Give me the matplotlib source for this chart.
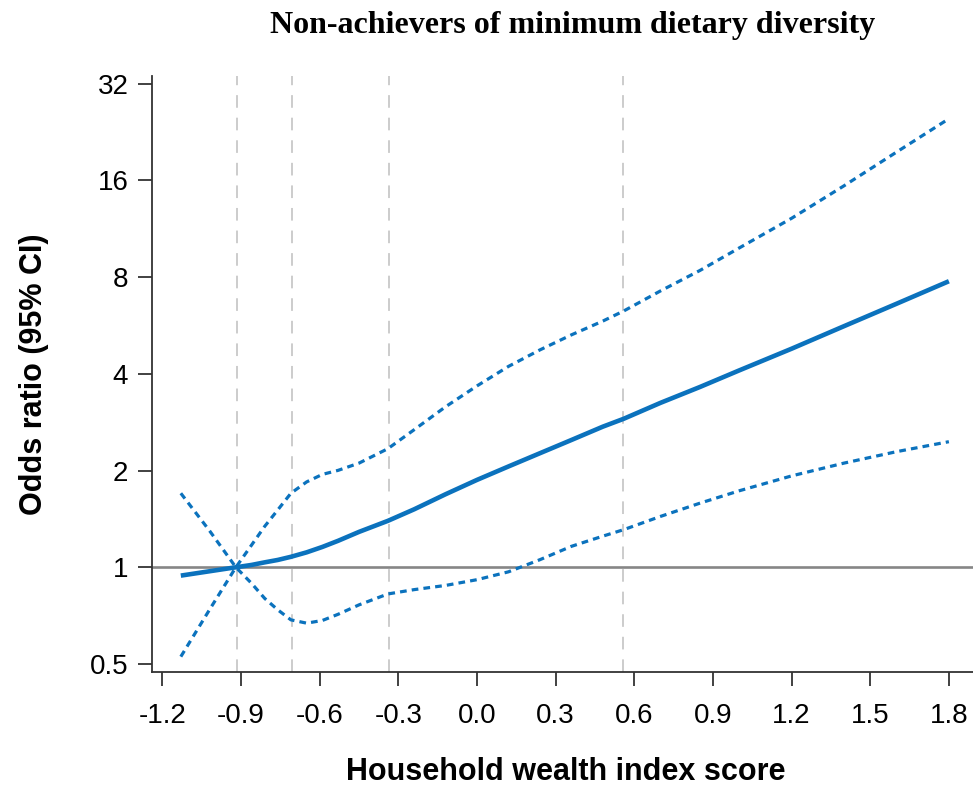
import numpy as np
import matplotlib
matplotlib.use("Agg")
import matplotlib.pyplot as plt

# wealth index score (x) and odds ratio curves
wealth = [-1.13, -1.02, -0.92, -0.86, -0.81, -0.76, -0.71, -0.65, -0.59, -0.53,
          -0.45, -0.34, -0.24, -0.12, 0.0, 0.12, 0.24, 0.36, 0.48, 0.56,
          0.70, 0.85, 1.0, 1.2, 1.4, 1.6, 1.80]
odds = [0.942, 0.972, 1.0, 1.017, 1.036, 1.054, 1.078, 1.113, 1.157, 1.209,
        1.289, 1.395, 1.515, 1.688, 1.871, 2.06, 2.265, 2.49, 2.74, 2.90,
        3.25, 3.64, 4.10, 4.79, 5.63, 6.61, 7.77]
# dotted bound starting top-left (lower limit right of the reference point)
ci_a = [1.70, 1.298, 1.0, 0.891, 0.800, 0.737, 0.686, 0.670, 0.683, 0.714,
        0.764, 0.826, 0.852, 0.878, 0.915, 0.968, 1.056, 1.162, 1.250, 1.310,
        1.44, 1.583, 1.73, 1.925, 2.11, 2.29, 2.46]
# dotted bound starting bottom-left (upper limit right of the reference point)
ci_b = [0.527, 0.739, 1.0, 1.173, 1.341, 1.509, 1.70, 1.844, 1.946, 2.003,
        2.11, 2.34, 2.68, 3.16, 3.67, 4.22, 4.75, 5.29, 5.84, 6.28,
        7.25, 8.39, 9.86, 12.2, 15.4, 19.6, 24.9]

knots = [-0.916, -0.706, -0.336, 0.556]
x_ticks = [-1.2, -0.9, -0.6, -0.3, 0.0, 0.3, 0.6, 0.9, 1.2, 1.5, 1.8]
y_ticks = [0.5, 1, 2, 4, 8, 16, 32]
y_ticklabels = ['0.5', '1', '2', '4', '8', '16', '32']

blue = '#0b72bd'

fig = plt.figure(figsize=(9.73, 7.86), dpi=100)
ax = fig.add_axes([0.1562, 0.145, 0.8438, 0.7587])

for k in knots:
    ax.axvline(k, color='#c8c8c8', lw=1.3, dashes=(7, 5.5), zorder=1)
ax.axhline(1, color='#868686', lw=1.9, zorder=2)

ax.plot(wealth, ci_a, color=blue, lw=2.3, dashes=(2.1, 1.6), zorder=3)
ax.plot(wealth, ci_b, color=blue, lw=2.3, dashes=(2.1, 1.6), zorder=3)
ax.plot(wealth, odds, color=blue, lw=3.3, solid_capstyle='butt',
        solid_joinstyle='round', zorder=4)

ax.set_yscale('log', base=2)
ax.set_xlim(-1.24, 1.892)
ax.set_ylim(0.472, 33.9)
ax.set_yticks(y_ticks)
ax.set_yticklabels(y_ticklabels)
ax.yaxis.set_minor_locator(matplotlib.ticker.NullLocator())
ax.set_xticks(x_ticks)
ax.set_xticklabels(['%.1f' % v for v in x_ticks])

for s in ['top', 'right']:
    ax.spines[s].set_visible(False)
for s in ['left', 'bottom']:
    ax.spines[s].set_color('#333333')
    ax.spines[s].set_linewidth(1.3)

ax.tick_params(axis='both', direction='out', length=10, width=1.3, color='#333333',
               labelsize=20)
ax.tick_params(axis='y', pad=7)
ax.tick_params(axis='x', pad=12)
for lab in ax.get_xticklabels() + ax.get_yticklabels():
    lab.set_family('Liberation Sans')

ax.set_xlabel('Household wealth index score', fontsize=22, fontweight='bold',
              family='Liberation Sans')
ax.set_ylabel('Odds ratio (95% CI)', fontsize=22, fontweight='bold',
              family='Liberation Sans')
ax.xaxis.set_label_coords(0.504, -0.143)
ax.yaxis.set_label_coords(-0.125, 0.5)

fig.text(0.589, 0.968, 'Non-achievers of minimum dietary diversity', ha='center', va='center',
         fontsize=23, fontweight='bold', family='Liberation Serif')

fig.savefig('out.png', dpi=100)
